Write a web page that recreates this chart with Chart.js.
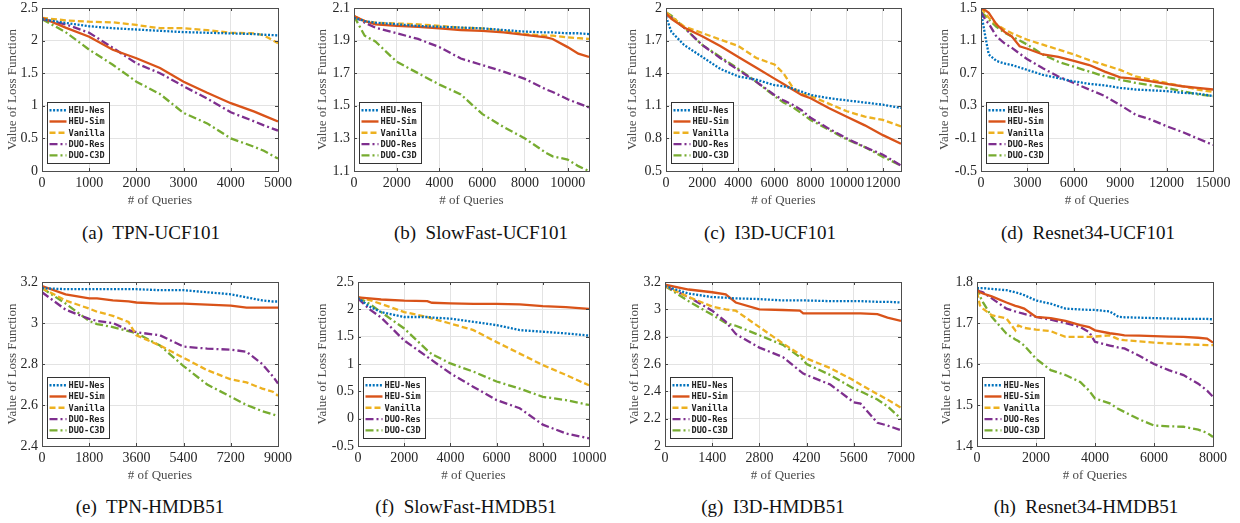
<!DOCTYPE html>
<html>
<head>
<meta charset="utf-8">
<script src="https://cdn.jsdelivr.net/npm/chart.js@4.4.1/dist/chart.umd.min.js"></script>
<style>
body { margin: 0; background: #fff; width: 1240px; height: 523px; position: relative; overflow: hidden; }
canvas { position: absolute; }
.cap { position: absolute; font-family: "Liberation Serif", serif; font-size: 19px; color: #111; white-space: pre; transform: translate(-50%, -50%); }
</style>
</head>
<body>
<script>
// nomes das séries (legenda)
const seriesNames = ["HEU-Nes", "HEU-Sim", "Vanilla", "DUO-Res", "DUO-C3D"];

// (a) TPN-UCF101
const aX    = [0, 500, 1000, 1500, 2000, 2500, 3000, 3500, 4000, 4500, 4700, 5000];
const aNes  = [2.33, 2.27, 2.22, 2.19, 2.17, 2.15, 2.13, 2.12, 2.11, 2.10, 2.09, 2.08];
const aSim  = [2.35, 2.20, 2.06, 1.86, 1.73, 1.58, 1.37, 1.20, 1.04, 0.91, 0.85, 0.76];
const aVan  = [2.35, 2.31, 2.29, 2.28, 2.24, 2.19, 2.19, 2.16, 2.12, 2.11, 2.08, 1.96];
const aRes  = [2.33, 2.25, 2.12, 1.89, 1.65, 1.50, 1.30, 1.11, 0.90, 0.76, 0.70, 0.62];
const aC3d  = [2.33, 2.13, 1.86, 1.63, 1.37, 1.18, 0.89, 0.73, 0.50, 0.37, 0.31, 0.19];
const aXTicks = [0, 1000, 2000, 3000, 4000, 5000];
const aYTicks = [0, 0.5, 1, 1.5, 2, 2.5];

// (b) SlowFast-UCF101
const bX    = [0, 500, 1000, 2000, 3000, 4000, 5000, 6000, 7000, 8000, 9000, 9300, 10000, 10500, 11000];
const bNes  = [2.04, 2.02, 2.01, 2.0, 1.99, 1.985, 1.98, 1.975, 1.965, 1.955, 1.95, 1.95, 1.945, 1.945, 1.94];
const bSim  = [2.05, 2.02, 2.0, 1.99, 1.985, 1.975, 1.965, 1.96, 1.95, 1.935, 1.92, 1.91, 1.86, 1.82, 1.80];
const bVan  = [2.05, 2.02, 2.01, 2.005, 2.0, 1.99, 1.98, 1.975, 1.96, 1.94, 1.93, 1.93, 1.92, 1.915, 1.91];
const bRes  = [2.05, 2.01, 1.98, 1.945, 1.91, 1.86, 1.79, 1.75, 1.71, 1.665, 1.60, 1.585, 1.54, 1.515, 1.49];
const bC3d  = [2.05, 1.93, 1.895, 1.77, 1.70, 1.63, 1.57, 1.45, 1.37, 1.30, 1.21, 1.19, 1.17, 1.13, 1.10];
const bXTicks = [0, 2000, 4000, 6000, 8000, 10000];
const bYTicks = [1.1, 1.3, 1.5, 1.7, 1.9, 2.1];

// (c) I3D-UCF101
const cX    = [0, 300, 1000, 2000, 3000, 4000, 5000, 6000, 6500, 7000, 7500, 8000, 9000, 10000, 11000, 12000, 13000];
const cNes  = [1.92, 1.78, 1.66, 1.55, 1.44, 1.37, 1.34, 1.29, 1.28, 1.26, 1.23, 1.20, 1.17, 1.15, 1.13, 1.11, 1.08];
const cSim  = [1.95, 1.90, 1.82, 1.74, 1.65, 1.55, 1.45, 1.35, 1.30, 1.25, 1.20, 1.17, 1.08, 1.0, 0.92, 0.83, 0.75];
const cVan  = [1.96, 1.92, 1.83, 1.77, 1.71, 1.65, 1.54, 1.48, 1.40, 1.27, 1.21, 1.19, 1.12, 1.05, 1.0, 0.97, 0.91];
const cRes  = [1.94, 1.91, 1.82, 1.66, 1.54, 1.43, 1.32, 1.20, 1.15, 1.11, 1.06, 0.99, 0.89, 0.80, 0.72, 0.65, 0.55];
const cC3d  = [1.96, 1.93, 1.82, 1.66, 1.55, 1.44, 1.32, 1.19, 1.13, 1.09, 1.03, 0.97, 0.88, 0.79, 0.72, 0.63, 0.55];
const cXTicks = [0, 2000, 4000, 6000, 8000, 10000, 12000];
const cYTicks = [0.5, 0.8, 1.1, 1.4, 1.7, 2];

// (d) Resnet34-UCF101
const dX    = [0, 300, 500, 1000, 1500, 2000, 2500, 3000, 4000, 5000, 6000, 7000, 8000, 9000, 10000, 11000, 12000, 13000, 14000, 15000];
const dNes  = [1.45, 1.13, 0.93, 0.85, 0.82, 0.80, 0.77, 0.74, 0.68, 0.64, 0.60, 0.57, 0.55, 0.52, 0.50, 0.49, 0.48, 0.46, 0.45, 0.42];
const dSim  = [1.50, 1.47, 1.44, 1.30, 1.21, 1.15, 1.03, 1.00, 0.93, 0.90, 0.85, 0.80, 0.72, 0.65, 0.63, 0.60, 0.57, 0.54, 0.52, 0.50];
const dVan  = [1.50, 1.43, 1.38, 1.30, 1.24, 1.19, 1.15, 1.11, 1.05, 0.99, 0.93, 0.86, 0.80, 0.74, 0.66, 0.62, 0.58, 0.54, 0.50, 0.47];
const dRes  = [1.45, 1.35, 1.31, 1.15, 1.07, 1.01, 0.94, 0.87, 0.76, 0.66, 0.58, 0.50, 0.42, 0.31, 0.19, 0.13, 0.05, -0.02, -0.10, -0.18];
const dC3d  = [1.45, 1.40, 1.36, 1.27, 1.20, 1.15, 1.10, 1.05, 0.93, 0.84, 0.78, 0.72, 0.66, 0.62, 0.58, 0.55, 0.52, 0.48, 0.44, 0.42];
const dXTicks = [0, 3000, 6000, 9000, 12000, 15000];
const dYTicks = [-0.5, -0.1, 0.3, 0.7, 1.1, 1.5];

// (e) TPN-HMDB51
const eX    = [0, 900, 1800, 2100, 2700, 3300, 3600, 4500, 5400, 6300, 7200, 7800, 8400, 8800, 9000];
const eNes  = [3.17, 3.165, 3.165, 3.165, 3.165, 3.165, 3.165, 3.16, 3.16, 3.15, 3.14, 3.125, 3.11, 3.105, 3.105];
const eSim  = [3.18, 3.14, 3.12, 3.12, 3.11, 3.105, 3.10, 3.095, 3.095, 3.09, 3.085, 3.075, 3.075, 3.075, 3.075];
const eVan  = [3.17, 3.11, 3.07, 3.055, 3.035, 3.005, 2.94, 2.89, 2.83, 2.77, 2.725, 2.71, 2.68, 2.665, 2.645];
const eRes  = [3.15, 3.065, 3.02, 3.01, 3.0, 2.965, 2.955, 2.94, 2.885, 2.875, 2.87, 2.86, 2.80, 2.74, 2.705];
const eC3d  = [3.17, 3.095, 3.01, 2.995, 2.98, 2.96, 2.95, 2.89, 2.79, 2.70, 2.64, 2.60, 2.57, 2.555, 2.545];
const eXTicks = [0, 1800, 3600, 5400, 7200, 9000];
const eYTicks = [2.4, 2.6, 2.8, 3, 3.2];

// (f) SlowFast-HMDB51
const fX    = [0, 500, 1000, 2000, 3000, 3200, 4000, 5000, 6000, 7000, 8000, 9000, 10000];
const fNes  = [2.21, 2.05, 1.95, 1.86, 1.86, 1.85, 1.83, 1.77, 1.71, 1.62, 1.59, 1.56, 1.52];
const fSim  = [2.22, 2.20, 2.18, 2.16, 2.15, 2.12, 2.11, 2.10, 2.10, 2.09, 2.06, 2.04, 2.01];
const fVan  = [2.22, 2.17, 2.10, 1.95, 1.86, 1.83, 1.74, 1.62, 1.40, 1.19, 0.98, 0.80, 0.61];
const fRes  = [2.20, 2.00, 1.85, 1.43, 1.13, 1.07, 0.83, 0.58, 0.34, 0.19, -0.11, -0.27, -0.36];
const fC3d  = [2.22, 2.10, 1.95, 1.65, 1.25, 1.18, 1.01, 0.86, 0.68, 0.55, 0.40, 0.34, 0.25];
const fXTicks = [0, 2000, 4000, 6000, 8000, 10000];
const fYTicks = [-0.5, 0, 0.5, 1, 1.5, 2, 2.5];

// (g) I3D-HMDB51
const gX    = [0, 700, 1400, 1800, 2100, 2800, 3500, 4000, 4100, 4200, 4900, 5600, 5800, 6300, 6600, 7000];
const gNes  = [3.17, 3.115, 3.09, 3.085, 3.08, 3.075, 3.065, 3.065, 3.065, 3.065, 3.06, 3.06, 3.06, 3.055, 3.055, 3.05];
const gSim  = [3.18, 3.145, 3.125, 3.11, 3.05, 3.0, 2.995, 2.99, 2.97, 2.97, 2.97, 2.97, 2.97, 2.965, 2.94, 2.915];
const gVan  = [3.17, 3.09, 3.02, 3.0, 2.99, 2.87, 2.75, 2.67, 2.65, 2.64, 2.57, 2.48, 2.45, 2.38, 2.34, 2.28];
const gRes  = [3.17, 3.09, 2.99, 2.91, 2.82, 2.72, 2.65, 2.55, 2.53, 2.52, 2.45, 2.32, 2.31, 2.17, 2.15, 2.115];
const gC3d  = [3.17, 3.06, 2.96, 2.90, 2.88, 2.81, 2.74, 2.65, 2.63, 2.60, 2.52, 2.42, 2.40, 2.34, 2.29, 2.20];
const gXTicks = [0, 1400, 2800, 4200, 5600, 7000];
const gYTicks = [2, 2.2, 2.4, 2.6, 2.8, 3, 3.2];

// (h) Resnet34-HMDB51
const hX    = [0, 100, 200, 500, 1000, 1300, 1400, 1600, 2000, 2500, 3000, 3500, 3800, 4000, 4500, 4800, 5000, 5500, 6000, 6500, 7000, 7500, 7800, 8000];
const hNes  = [1.785, 1.785, 1.785, 1.783, 1.78, 1.775, 1.773, 1.768, 1.755, 1.747, 1.735, 1.733, 1.732, 1.732, 1.728, 1.715, 1.714, 1.713, 1.712, 1.711, 1.71, 1.71, 1.71, 1.709];
const hSim  = [1.78, 1.775, 1.772, 1.765, 1.75, 1.742, 1.74, 1.735, 1.715, 1.712, 1.705, 1.695, 1.69, 1.682, 1.675, 1.672, 1.67, 1.669, 1.668, 1.667, 1.666, 1.664, 1.662, 1.652];
const hVan  = [1.776, 1.743, 1.735, 1.719, 1.711, 1.682, 1.694, 1.688, 1.684, 1.68, 1.666, 1.666, 1.666, 1.667, 1.67, 1.660, 1.658, 1.655, 1.652, 1.65, 1.648, 1.647, 1.646, 1.646];
const hRes  = [1.78, 1.777, 1.775, 1.76, 1.735, 1.728, 1.726, 1.722, 1.715, 1.708, 1.70, 1.69, 1.678, 1.654, 1.645, 1.64, 1.638, 1.62, 1.60, 1.585, 1.573, 1.552, 1.535, 1.52];
const hC3d  = [1.788, 1.765, 1.751, 1.715, 1.674, 1.66, 1.656, 1.645, 1.613, 1.585, 1.573, 1.556, 1.535, 1.516, 1.504, 1.49, 1.483, 1.465, 1.45, 1.448, 1.447, 1.44, 1.432, 1.422];
const hXTicks = [0, 2000, 4000, 6000, 8000];
const hYTicks = [1.4, 1.5, 1.6, 1.7, 1.8];

// cores e traços (estilo MATLAB)
const cores = ["#0072BD", "#D95319", "#EDB120", "#7E2F8E", "#77AC30"];
const tracos = [[2, 1.6], [], [6, 3], [8, 3, 2, 3], [8, 3, 2, 3]];

// painéis: dados + posição da área do gráfico na página
const paineis = [
  { id: "a", x: aX, ys: [aNes, aSim, aVan, aRes, aC3d], xt: aXTicks, yt: aYTicks, cap: "(a)  TPN-UCF101",      L: 42,  T: 8,   R: 278,  B: 171, yw: 42, cx: 151,  cy: 233 },
  { id: "b", x: bX, ys: [bNes, bSim, bVan, bRes, bC3d], xt: bXTicks, yt: bYTicks, cap: "(b)  SlowFast-UCF101", L: 354, T: 8,   R: 589,  B: 171, yw: 44, cx: 481,  cy: 233 },
  { id: "c", x: cX, ys: [cNes, cSim, cVan, cRes, cC3d], xt: cXTicks, yt: cYTicks, cap: "(c)  I3D-UCF101",      L: 666, T: 8,   R: 901,  B: 171, yw: 46, cx: 770,  cy: 233 },
  { id: "d", x: dX, ys: [dNes, dSim, dVan, dRes, dC3d], xt: dXTicks, yt: dYTicks, cap: "(d)  Resnet34-UCF101", L: 981, T: 8,   R: 1213, B: 171, yw: 49, cx: 1088, cy: 233 },
  { id: "e", x: eX, ys: [eNes, eSim, eVan, eRes, eC3d], xt: eXTicks, yt: eYTicks, cap: "(e)  TPN-HMDB51",      L: 42,  T: 282, R: 278,  B: 446, yw: 42, cx: 150,  cy: 507 },
  { id: "f", x: fX, ys: [fNes, fSim, fVan, fRes, fC3d], xt: fXTicks, yt: fYTicks, cap: "(f)  SlowFast-HMDB51", L: 358, T: 282, R: 589,  B: 446, yw: 48, cx: 466,  cy: 507 },
  { id: "g", x: gX, ys: [gNes, gSim, gVan, gRes, gC3d], xt: gXTicks, yt: gYTicks, cap: "(g)  I3D-HMDB51",      L: 665, T: 282, R: 901,  B: 446, yw: 43, cx: 773,  cy: 507 },
  { id: "h", x: hX, ys: [hNes, hSim, hVan, hRes, hC3d], xt: hXTicks, yt: hYTicks, cap: "(h)  Resnet34-HMDB51", L: 977, T: 282, R: 1213, B: 446, yw: 43, cx: 1086, cy: 507 }
];

const PAD_TOP = 10, PAD_RIGHT = 26, XAXIS_H = 40;

// caixa do eixo, marcas internas e legenda dentro do gráfico
const caixaLegenda = {
  id: "caixaLegenda",
  afterDatasetsDraw(chart) {
    const { ctx, chartArea: a, scales } = chart;
    ctx.save();
    // marcas internas (como no MATLAB)
    ctx.strokeStyle = "#444";
    ctx.lineWidth = 1;
    ctx.beginPath();
    scales.x.ticks.forEach(t => {
      const px = Math.round(scales.x.getPixelForValue(t.value)) + 0.5;
      ctx.moveTo(px, a.bottom); ctx.lineTo(px, a.bottom - 3);
      ctx.moveTo(px, a.top); ctx.lineTo(px, a.top + 3);
    });
    scales.y.ticks.forEach(t => {
      const py = Math.round(scales.y.getPixelForValue(t.value)) + 0.5;
      ctx.moveTo(a.left, py); ctx.lineTo(a.left + 3, py);
      ctx.moveTo(a.right, py); ctx.lineTo(a.right - 3, py);
    });
    ctx.stroke();
    ctx.strokeStyle = "#4d4d4d";
    ctx.strokeRect(Math.round(a.left) + 0.5, Math.round(a.top) + 0.5, Math.round(a.right - a.left), Math.round(a.bottom - a.top));

    // legenda
    const sets = chart.data.datasets;
    const w = 62, rowH = 11.3, h = 61;
    const x0 = Math.round(a.left + 5) + 0.5, y0 = Math.round(a.bottom - 8 - h) + 0.5;
    ctx.fillStyle = "#fff";
    ctx.fillRect(x0, y0, w, h);
    ctx.strokeStyle = "#333";
    ctx.strokeRect(x0, y0, w, h);
    ctx.font = 'bold 8.6px "DejaVu Sans Mono"';
    ctx.textBaseline = "middle";
    sets.forEach((ds, i) => {
      const y = y0 + 7.7 + rowH * i;
      ctx.strokeStyle = ds.borderColor;
      ctx.lineWidth = 2.4;
      ctx.setLineDash(ds.borderDash);
      ctx.beginPath();
      ctx.moveTo(x0 + 2, y);
      ctx.lineTo(x0 + 19, y);
      ctx.stroke();
      ctx.setLineDash([]);
      ctx.fillStyle = "#222";
      ctx.fillText(ds.label, x0 + 21, y + 0.5);
    });
    ctx.restore();
  }
};

paineis.forEach(p => {
  const cv = document.createElement("canvas");
  const w = p.R - p.L + p.yw + PAD_RIGHT;
  const h = p.B - p.T + PAD_TOP + XAXIS_H;
  cv.width = w;
  cv.height = h;
  cv.style.left = (p.L - p.yw) + "px";
  cv.style.top = (p.T - PAD_TOP) + "px";
  document.body.appendChild(cv);

  const cap = document.createElement("div");
  cap.className = "cap";
  cap.textContent = p.cap;
  cap.style.left = p.cx + "px";
  cap.style.top = p.cy + "px";
  document.body.appendChild(cap);

  const datasets = p.ys.map((ys, i) => ({
    label: seriesNames[i],
    data: p.x.map((x, j) => ({ x: x, y: ys[j] })),
    borderColor: cores[i],
    borderDash: tracos[i],
    borderWidth: 2.3,
    pointRadius: 0,
    tension: 0,
    fill: false
  }));

  new Chart(cv, {
    type: "line",
    data: { datasets: datasets },
    options: {
      responsive: false,
      animation: false,
      events: [],
      layout: { padding: { top: PAD_TOP, right: PAD_RIGHT, left: 0, bottom: 0 } },
      plugins: { legend: { display: false }, tooltip: { enabled: false } },
      scales: {
        x: {
          type: "linear",
          min: p.x[0],
          max: p.x[p.x.length - 1],
          afterBuildTicks: s => { s.ticks = p.xt.map(v => ({ value: v })); },
          afterFit: s => { s.height = XAXIS_H; s.paddingLeft = 0; s.paddingRight = 0; },
          ticks: {
            autoSkip: false, maxRotation: 0, minRotation: 0, padding: 4,
            color: "#262626",
            font: { family: "Liberation Serif", size: 14 },
            callback: v => String(v)
          },
          grid: { color: "#e3e3e3", lineWidth: 1, drawTicks: false },
          border: { display: false },
          title: {
            display: true, text: "# of Queries", color: "#4a4a4a",
            font: { family: "Liberation Serif", size: 13 },
            padding: { top: 0, bottom: 3 }
          }
        },
        y: {
          type: "linear",
          min: p.yt[0],
          max: p.yt[p.yt.length - 1],
          afterBuildTicks: s => { s.ticks = p.yt.map(v => ({ value: v })); },
          afterFit: s => { s.width = p.yw; s.paddingTop = 0; s.paddingBottom = 0; },
          ticks: {
            autoSkip: false, padding: 4,
            color: "#262626",
            font: { family: "Liberation Serif", size: 14 },
            callback: v => String(v)
          },
          grid: { color: "#e3e3e3", lineWidth: 1, drawTicks: false },
          border: { display: false },
          title: {
            display: true, text: "Value of Loss Function", color: "#4a4a4a",
            font: { family: "Liberation Serif", size: 13 },
            padding: { top: 5, bottom: 0 }
          }
        }
      }
    },
    plugins: [caixaLegenda]
  });
});
</script>
</body>
</html>
